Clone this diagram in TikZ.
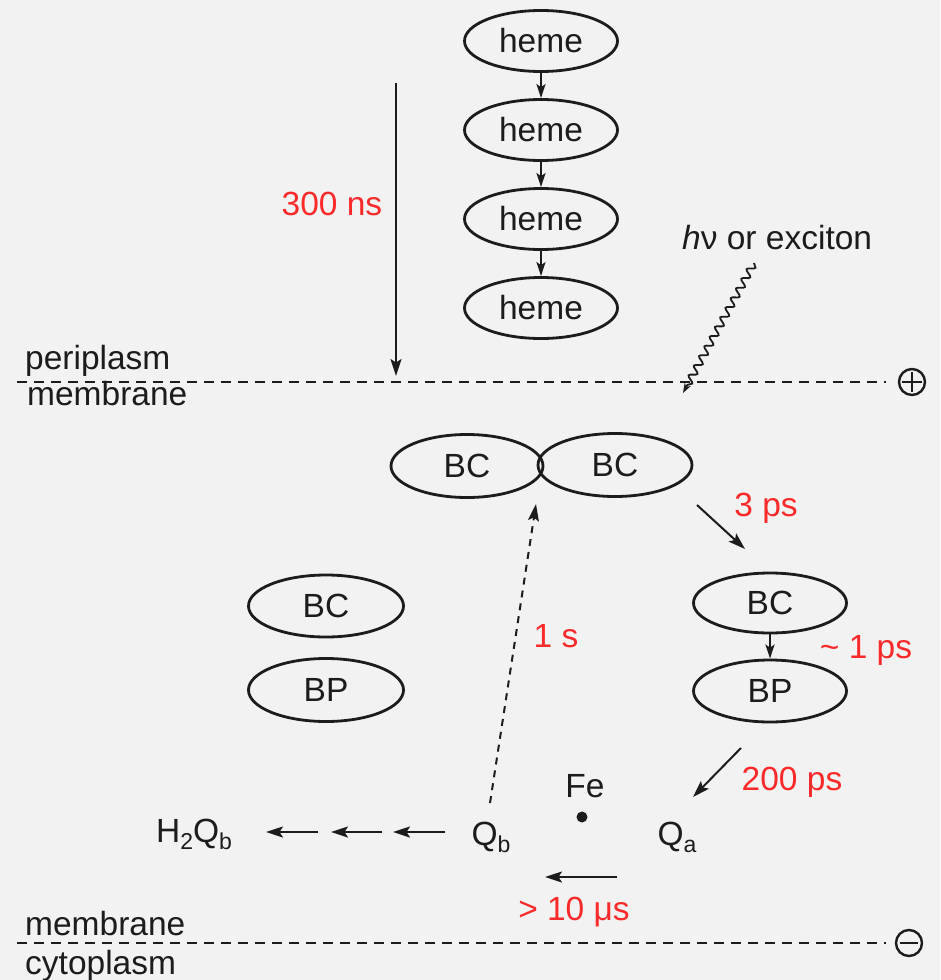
\documentclass[tikz,border=0pt]{standalone}
\usepackage{fontspec}
\setmainfont{Liberation Sans}
\usetikzlibrary{shapes.geometric,arrows.meta,decorations.pathmorphing}
\definecolor{bg}{RGB}{242,242,242}
\definecolor{ink}{RGB}{28,28,28}
\definecolor{ratecol}{RGB}{250,42,42}
\newcommand\bigtxt{\fontsize{33.5}{40}\selectfont}
\newcommand\lowsub[1]{\raisebox{-0.22em}{\fontsize{23}{25}\selectfont #1}}

\begin{document}
\begin{tikzpicture}[x=1pt,y=-1pt,
  pigment/.style={ellipse, draw=ink, line width=2.8pt, minimum width=153pt,
    minimum height=61pt, inner sep=0pt, text=ink, font=\bigtxt},
  lbl/.style={text=ink, inner sep=0pt, font=\bigtxt},
  ratelbl/.style={text=ratecol, inner sep=0pt, font=\bigtxt},
  flow/.style={draw=ink, line width=2pt, -{Stealth[length=17pt,width=11pt,inset=3.5pt]}},
  hop/.style={draw=ink, line width=2pt, -{Stealth[length=14pt,width=9pt,inset=3pt]}},
  boundary/.style={draw=ink, line width=2.2pt, dash pattern=on 10pt off 7pt},
  pole/.style={circle, draw=ink, line width=2.4pt, minimum size=26pt, inner sep=0pt}]

\fill[bg] (0,0) rectangle (940,980);
\useasboundingbox (0,0) rectangle (940,980);

% heme chain in the periplasm
\node[pigment] (h1) at (541,41) {heme};
\node[pigment] (h2) at (541,130) {heme};
\node[pigment] (h3) at (541,219) {heme};
\node[pigment] (h4) at (541,308) {heme};
\draw[hop] (h1.south) -- (h2.north);
\draw[hop] (h2.south) -- (h3.north);
\draw[hop] (h3.south) -- (h4.north);

% 300 ns transfer
\coordinate (nsA) at (396,83);
\coordinate (nsB) at (396,376);
\draw[flow] (nsA) -- (nsB);
\node[ratelbl, anchor=base] (ns) at (332,215) {300 ns};

% light input
\node[lbl, anchor=base west] (light) at (682,249) {\textit{h}ν or exciton};
\coordinate (wA) at (754,263);
\coordinate (wB) at (683,393);
\draw[ink, line width=1.8pt, decorate,
  decoration={snake, amplitude=3.6pt, segment length=11pt, post length=8pt},
  -{Stealth[length=10pt,width=7pt]}] (wA) -- (wB);

% membrane boundaries
\coordinate (tL) at (17,382);
\coordinate (tR) at (886,382);
\draw[boundary] (tL) -- (tR);
\node[pole] (plus) at (912,382) {};
\draw[ink, line width=2.2pt] ([xshift=4pt]plus.west) -- ([xshift=-4pt]plus.east)
  ([yshift=-4pt]plus.north) -- ([yshift=4pt]plus.south);
\node[lbl, anchor=base west] (peri) at (25,369) {periplasm};
\node[lbl, anchor=base west] (memT) at (27,405) {membrane};

\coordinate (bL) at (17,943);
\coordinate (bR) at (886,943);
\draw[boundary] (bL) -- (bR);
\node[pole] (minus) at (909,943) {};
\draw[ink, line width=2.4pt] ([xshift=5pt]minus.west) -- ([xshift=-5pt]minus.east);
\node[lbl, anchor=base west] (memB) at (25,935) {membrane};
\node[lbl, anchor=base west] (cyto) at (25,974) {cytoplasm};

% special pair
\node[pigment, minimum width=152pt, minimum height=63pt] (bcl) at (467,466) {BC};
\node[pigment, minimum width=154pt, minimum height=63pt] (bcr) at (615,465) {BC};

% 3 ps step
\coordinate (p3A) at (697,505);
\coordinate (p3B) at (745,549);
\draw[flow] (p3A) -- (p3B);
\node[ratelbl, anchor=base] (r3) at (766,516) {3 ps};

% active branch
\node[pigment, minimum height=60pt] (bca) at (770,603) {BC};
\node[pigment, minimum height=62pt] (bpa) at (770,691) {BP};
\draw[hop] (bca.south) -- (bpa.north);
\node[ratelbl, anchor=base] (r1) at (866,658) {\textasciitilde\ 1 ps};

% inactive branch
\node[pigment, minimum width=155pt, minimum height=62pt] (bcb) at (326,606) {BC};
\node[pigment, minimum width=155pt, minimum height=63pt] (bpb) at (326,690) {BP};

% 200 ps step
\coordinate (p200A) at (741,748);
\coordinate (p200B) at (693,797);
\draw[flow] (p200A) -- (p200B);
\node[ratelbl, anchor=base] (r200) at (792,790) {200 ps};

% quinones and iron
\node[lbl, anchor=base] (fe) at (585,797) {Fe};
\fill[ink] (582,817) circle (5.5pt);
\node[lbl, anchor=base] (qa) at (677,845) {Q\lowsub{a}};
\node[lbl, anchor=base] (qb) at (491,845) {Q\lowsub{b}};
\node[lbl, anchor=base] (h2qb) at (194,842) {H\lowsub{2}Q\lowsub{b}};

% back reaction (1 s)
\coordinate (bkA) at (490,803);
\coordinate (bkB) at (536,504);
\draw[flow, dash pattern=on 7pt off 6pt] (bkA) -- (bkB);
\node[ratelbl, anchor=base] (r1s) at (556,647) {1 s};

% Qa to Qb (>10 us)
\coordinate (qqA) at (617,877);
\coordinate (qqB) at (545,877);
\draw[flow] (qqA) -- (qqB);
\node[ratelbl, anchor=base] (r10) at (574,920) {> 10 μs};

% reduction of Qb
\coordinate (s1A) at (445,832);
\coordinate (s1B) at (393,832);
\coordinate (s2A) at (382,832);
\coordinate (s2B) at (331,832);
\coordinate (s3A) at (318,832);
\coordinate (s3B) at (266,832);
\draw[flow] (s1A) -- (s1B);
\draw[flow] (s2A) -- (s2B);
\draw[flow] (s3A) -- (s3B);
\end{tikzpicture}
\end{document}
